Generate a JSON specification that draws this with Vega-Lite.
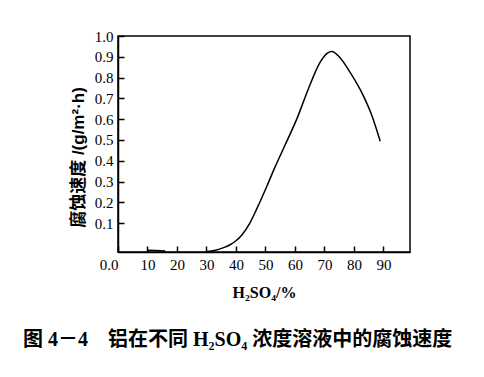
{
  "$schema": "https://vega.github.io/schema/vega-lite/v6.json",
  "width": 292,
  "height": 216,
  "autosize": {"type": "none"},
  "padding": {"left": 118, "top": 36, "right": 74, "bottom": 125},
  "background": "white",
  "title": {
    "text": "图 4－4\u00a0\u00a0\u00a0\u00a0铝在不同 H₂SO₄ 浓度溶液中的腐蚀速度",
    "orient": "bottom",
    "anchor": "start",
    "frame": "group",
    "dx": -95,
    "offset": 30,
    "font": "'Liberation Serif', 'Noto Sans CJK SC'",
    "fontSize": 20,
    "fontWeight": "bold",
    "color": "black"
  },
  "config": {
    "view": {"stroke": "black", "strokeWidth": 1.5},
    "axis": {
      "grid": false,
      "domain": true,
      "domainColor": "black",
      "domainWidth": 1.5,
      "tickSize": -6,
      "tickColor": "black",
      "tickWidth": 1.5,
      "labelColor": "black",
      "titleColor": "black",
      "labelFont": "Liberation Serif",
      "labelFontSize": 15
    }
  },
  "data": {
    "values": [
      {"s": "a", "x": 10, "v": -0.031},
      {"s": "a", "x": 13, "v": -0.032},
      {"s": "a", "x": 16, "v": -0.034},
      {"s": "b", "x": 30, "v": -0.037},
      {"s": "b", "x": 33, "v": -0.031},
      {"s": "b", "x": 36, "v": -0.017},
      {"s": "b", "x": 38, "v": -0.004},
      {"s": "b", "x": 40, "v": 0.015},
      {"s": "b", "x": 42, "v": 0.043},
      {"s": "b", "x": 44.7, "v": 0.1},
      {"s": "b", "x": 47, "v": 0.167},
      {"s": "b", "x": 50.4, "v": 0.275},
      {"s": "b", "x": 53, "v": 0.362},
      {"s": "b", "x": 56.3, "v": 0.465},
      {"s": "b", "x": 60.6, "v": 0.6},
      {"s": "b", "x": 64.5, "v": 0.744},
      {"s": "b", "x": 68.5, "v": 0.873},
      {"s": "b", "x": 71, "v": 0.918},
      {"s": "b", "x": 72.5, "v": 0.925},
      {"s": "b", "x": 75, "v": 0.9},
      {"s": "b", "x": 78.7, "v": 0.825},
      {"s": "b", "x": 83.2, "v": 0.712},
      {"s": "b", "x": 86, "v": 0.62},
      {"s": "b", "x": 88.9, "v": 0.494}
    ]
  },
  "mark": {"type": "line", "color": "black", "strokeWidth": 1.5, "interpolate": "monotone"},
  "encoding": {
    "detail": {"field": "s"},
    "x": {
      "field": "x",
      "type": "quantitative",
      "scale": {"domain": [0, 99], "nice": false, "zero": false},
      "axis": {
        "values": [0, 10, 20, 30, 40, 50, 60, 70, 80, 90],
        "labelExpr": "datum.value == 0 ? '0.0\u00a0' : datum.label",
        "labelAlign": {"condition": {"test": "datum.value == 0", "value": "right"}, "value": "center"},
        "labelFlush": false,
        "labelPadding": 11,
        "title": "H₂SO₄/%",
        "titleFont": "Liberation Serif",
        "titleFontSize": 16,
        "titleFontWeight": "bold",
        "titlePadding": 12
      }
    },
    "y": {
      "field": "v",
      "type": "quantitative",
      "scale": {"domain": [-0.039, 1.0], "nice": false, "zero": false},
      "axis": {
        "values": [0.1, 0.2, 0.3, 0.4, 0.5, 0.6, 0.7, 0.8, 0.9, 1.0],
        "format": ".1f",
        "labelPadding": 11,
        "title": "腐蚀速度 /(g/m²·h)",
        "titleFont": "'Liberation Sans', 'Noto Sans CJK SC'",
        "titleFontSize": 17,
        "titleFontWeight": "bold",
        "titlePadding": 7,
        "titleY": 121
      }
    }
  }
}
